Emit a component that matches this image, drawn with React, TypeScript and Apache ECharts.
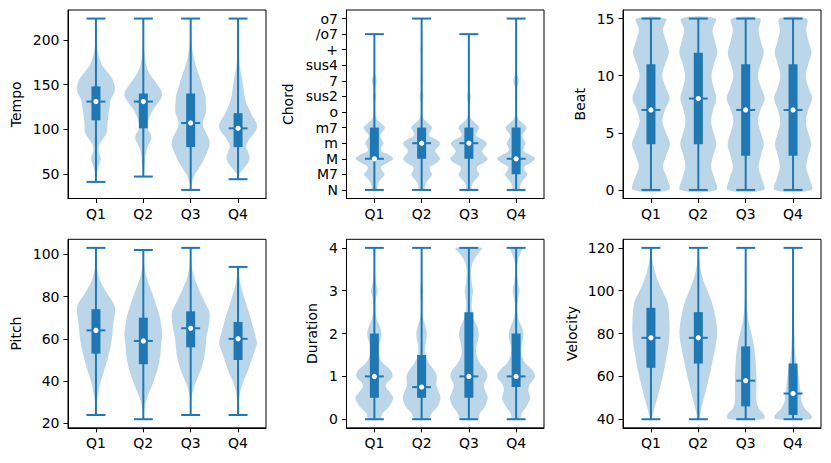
import React, { useEffect, useRef } from 'react';
import * as echarts from 'echarts';

const quarters = ['Q1', 'Q2', 'Q3', 'Q4'];
const chordLabels = ['N', 'M7', 'M', 'm', 'm7', 'o', 'sus2', '7', 'sus4', '+', '/o7', 'o7'];

// stats per quarter: [min, q1, median, q3, max]
const tempoStats = [[41, 110, 131, 148, 224], [47, 101, 131, 140, 224], [32, 80, 107, 140, 224], [44, 80, 101, 118, 224]];
const chordStats = [[0, 2, 2, 4, 10], [0, 2, 3, 4, 11], [0, 2, 3, 4, 10], [0, 1, 2, 4, 11]];
const beatStats = [[0, 4, 7, 11, 15], [0, 4, 8, 12, 15], [0, 3, 7, 11, 15], [0, 3, 7, 11, 15]];
const pitchStats = [[24, 53, 64, 74, 103], [22, 48, 59, 70, 102], [24, 56, 65, 73, 103], [24, 50, 60, 68, 94]];
const durationStats = [[0, 0.5, 1, 2, 4], [0, 0.5, 0.75, 1.5, 4], [0, 0.5, 1, 2.5, 4], [0, 0.75, 1, 2, 4]];
const velocityStats = [[40, 64, 78, 92, 120], [40, 66, 78, 90, 120], [40, 46, 58, 74, 120], [40, 42, 52, 66, 120]];

// violin outlines per quarter: [value, relative half width]
const tempoShapes = [
  [[41, 0.02], [50, 0.05], [58, 0.13], [65, 0.24], [70, 0.23], [76, 0.14], [82, 0.16], [90, 0.4], [97, 0.58], [105, 0.6], [115, 0.65], [125, 0.72], [133, 0.78], [140, 0.95], [145, 1.0], [152, 0.95], [158, 0.82], [164, 0.6], [170, 0.38], [176, 0.24], [185, 0.12], [195, 0.05], [210, 0.02], [224, 0.0]],
  [[47, 0.01], [55, 0.05], [62, 0.08], [70, 0.1], [78, 0.18], [84, 0.32], [89, 0.42], [94, 0.4], [99, 0.26], [104, 0.2], [110, 0.26], [116, 0.38], [122, 0.52], [128, 0.72], [134, 0.92], [138, 1.0], [143, 0.95], [148, 0.8], [154, 0.6], [160, 0.4], [166, 0.24], [172, 0.15], [180, 0.08], [190, 0.04], [205, 0.02], [224, 0.0]],
  [[32, 0.01], [40, 0.05], [46, 0.15], [52, 0.3], [58, 0.48], [64, 0.65], [70, 0.78], [76, 0.9], [82, 1.0], [88, 0.98], [94, 0.86], [100, 0.72], [106, 0.64], [112, 0.7], [118, 0.8], [124, 0.82], [130, 0.8], [136, 0.78], [142, 0.72], [148, 0.62], [154, 0.55], [160, 0.45], [166, 0.35], [172, 0.26], [178, 0.18], [185, 0.12], [195, 0.05], [210, 0.02], [224, 0.0]],
  [[44, 0.01], [50, 0.08], [55, 0.25], [60, 0.45], [65, 0.58], [70, 0.6], [75, 0.52], [80, 0.43], [85, 0.5], [90, 0.62], [95, 0.82], [100, 0.97], [104, 1.0], [108, 0.95], [114, 0.78], [120, 0.64], [126, 0.5], [132, 0.4], [140, 0.32], [148, 0.27], [155, 0.22], [162, 0.16], [170, 0.1], [180, 0.06], [195, 0.03], [210, 0.01], [224, 0.0]],
];
const chordShapes = [
  [[0, 0.14], [0.25, 0.15], [0.5, 0.22], [0.75, 0.38], [1, 0.55], [1.25, 0.4], [1.5, 0.36], [1.75, 0.7], [2, 1.0], [2.25, 0.78], [2.5, 0.36], [2.75, 0.38], [3, 0.48], [3.25, 0.38], [3.5, 0.3], [3.75, 0.45], [4, 0.56], [4.25, 0.38], [4.5, 0.15], [4.75, 0.06], [5, 0.04], [5.5, 0.04], [6, 0.08], [6.5, 0.04], [7, 0.13], [7.5, 0.03], [8, 0.02], [9, 0.01], [10, 0.0]],
  [[0, 0.15], [0.25, 0.17], [0.5, 0.25], [0.75, 0.42], [1, 0.55], [1.25, 0.45], [1.5, 0.46], [1.75, 0.8], [2, 0.98], [2.25, 0.85], [2.5, 0.72], [2.75, 0.86], [3, 0.98], [3.25, 0.75], [3.5, 0.4], [3.75, 0.45], [4, 0.55], [4.25, 0.38], [4.5, 0.15], [4.75, 0.06], [5, 0.04], [5.5, 0.04], [6, 0.1], [6.5, 0.04], [7, 0.05], [7.5, 0.03], [8, 0.03], [8.5, 0.03], [9, 0.06], [9.5, 0.02], [10, 0.03], [10.5, 0.01], [11, 0.0]],
  [[0, 0.13], [0.25, 0.15], [0.5, 0.24], [0.75, 0.42], [1, 0.55], [1.25, 0.44], [1.5, 0.45], [1.75, 0.8], [2, 1.0], [2.25, 0.82], [2.5, 0.7], [2.75, 0.84], [3, 0.95], [3.25, 0.72], [3.5, 0.38], [3.75, 0.45], [4, 0.55], [4.25, 0.38], [4.5, 0.15], [4.75, 0.06], [5, 0.04], [5.5, 0.04], [6, 0.1], [6.5, 0.04], [7, 0.06], [7.5, 0.02], [8, 0.02], [9, 0.01], [10, 0.0]],
  [[0, 0.18], [0.25, 0.2], [0.5, 0.3], [0.75, 0.46], [1, 0.6], [1.25, 0.46], [1.5, 0.45], [1.75, 0.78], [2, 1.0], [2.25, 0.76], [2.5, 0.4], [2.75, 0.42], [3, 0.5], [3.25, 0.4], [3.5, 0.32], [3.75, 0.45], [4, 0.55], [4.25, 0.38], [4.5, 0.15], [4.75, 0.06], [5, 0.03], [5.5, 0.03], [6, 0.06], [6.5, 0.04], [7, 0.15], [7.5, 0.03], [8, 0.02], [9, 0.02], [10, 0.01], [11, 0.0]],
];
const beatShapes = [
  [[0, 0.95], [1, 0.86], [2, 0.64], [3, 0.8], [4, 1.0], [5, 0.8], [6, 0.6], [7, 0.74], [8, 0.98], [9, 0.78], [10, 0.6], [11, 0.74], [12, 0.95], [13, 0.8], [14, 0.64], [15, 0.77]],
  [[0, 0.95], [1, 0.85], [2, 0.68], [3, 0.78], [4, 0.95], [5, 0.8], [6, 0.68], [7, 0.78], [8, 0.95], [9, 0.8], [10, 0.7], [11, 0.82], [12, 1.0], [13, 0.88], [14, 0.75], [15, 0.9]],
  [[0, 0.95], [1, 0.85], [2, 0.68], [3, 0.8], [4, 0.95], [5, 0.8], [6, 0.65], [7, 0.78], [8, 1.0], [9, 0.8], [10, 0.65], [11, 0.78], [12, 0.95], [13, 0.8], [14, 0.68], [15, 0.75]],
  [[0, 0.97], [1, 0.86], [2, 0.7], [3, 0.8], [4, 0.95], [5, 0.8], [6, 0.68], [7, 0.8], [8, 1.0], [9, 0.8], [10, 0.68], [11, 0.8], [12, 0.97], [13, 0.82], [14, 0.7], [15, 0.72]],
];
const pitchShapes = [
  [[24, 0.0], [28, 0.02], [32, 0.08], [36, 0.16], [40, 0.26], [44, 0.4], [48, 0.54], [52, 0.66], [56, 0.76], [60, 0.84], [64, 0.88], [68, 0.93], [72, 1.0], [75, 1.0], [78, 0.85], [81, 0.62], [84, 0.42], [87, 0.25], [90, 0.13], [94, 0.05], [98, 0.02], [103, 0.0]],
  [[22, 0.0], [26, 0.04], [30, 0.12], [34, 0.28], [38, 0.46], [42, 0.62], [46, 0.76], [50, 0.86], [54, 0.92], [58, 0.95], [62, 1.0], [66, 0.95], [70, 0.88], [74, 0.75], [78, 0.6], [82, 0.45], [86, 0.28], [90, 0.14], [94, 0.06], [98, 0.02], [102, 0.0]],
  [[24, 0.0], [30, 0.02], [34, 0.08], [38, 0.2], [42, 0.38], [46, 0.56], [50, 0.68], [54, 0.76], [58, 0.8], [62, 0.86], [66, 0.95], [70, 1.0], [73, 0.98], [76, 0.82], [80, 0.6], [84, 0.4], [88, 0.22], [92, 0.1], [96, 0.04], [100, 0.01], [103, 0.0]],
  [[24, 0.0], [28, 0.02], [32, 0.06], [36, 0.14], [40, 0.28], [44, 0.48], [48, 0.64], [52, 0.78], [56, 0.95], [58, 1.0], [62, 0.9], [66, 0.78], [70, 0.66], [74, 0.52], [78, 0.38], [82, 0.24], [86, 0.12], [90, 0.05], [94, 0.0]],
];
const durationShapes = [
  [[0, 0.28], [0.15, 0.45], [0.3, 0.78], [0.5, 1.0], [0.65, 0.78], [0.8, 0.6], [1.0, 0.96], [1.15, 0.85], [1.3, 0.48], [1.5, 0.22], [1.7, 0.2], [1.85, 0.32], [2.0, 0.38], [2.15, 0.3], [2.35, 0.12], [2.6, 0.05], [2.85, 0.1], [3.0, 0.18], [3.15, 0.1], [3.4, 0.03], [3.7, 0.02], [4, 0.05]],
  [[0, 0.35], [0.15, 0.55], [0.3, 0.85], [0.5, 1.0], [0.65, 0.9], [0.8, 0.78], [1.0, 0.8], [1.15, 0.65], [1.3, 0.4], [1.5, 0.2], [1.7, 0.18], [1.85, 0.25], [2.0, 0.28], [2.15, 0.22], [2.4, 0.06], [2.7, 0.03], [3.0, 0.08], [3.2, 0.04], [3.5, 0.02], [4, 0.02]],
  [[0, 0.45], [0.15, 0.6], [0.3, 0.85], [0.5, 1.0], [0.65, 0.88], [0.8, 0.8], [1.0, 0.98], [1.15, 0.88], [1.3, 0.6], [1.5, 0.4], [1.7, 0.4], [1.85, 0.48], [2.0, 0.52], [2.15, 0.45], [2.35, 0.25], [2.6, 0.15], [2.85, 0.18], [3.0, 0.22], [3.2, 0.15], [3.5, 0.12], [3.75, 0.3], [3.9, 0.55], [4.0, 0.7]],
  [[0, 0.18], [0.15, 0.3], [0.3, 0.55], [0.5, 0.75], [0.65, 0.65], [0.8, 0.7], [1.0, 1.0], [1.15, 0.85], [1.3, 0.5], [1.5, 0.28], [1.7, 0.28], [1.85, 0.35], [2.0, 0.38], [2.15, 0.3], [2.35, 0.12], [2.6, 0.06], [2.85, 0.12], [3.0, 0.18], [3.2, 0.1], [3.5, 0.04], [3.75, 0.12], [3.9, 0.25], [4.0, 0.32]],
];
const velocityShapes = [
  [[40, 0.03], [45, 0.18], [50, 0.34], [55, 0.48], [60, 0.62], [65, 0.74], [70, 0.84], [75, 0.93], [80, 0.98], [85, 0.98], [90, 0.95], [95, 0.86], [100, 0.6], [105, 0.35], [110, 0.18], [115, 0.06], [120, 0.0]],
  [[40, 0.03], [45, 0.16], [50, 0.3], [55, 0.44], [60, 0.58], [65, 0.7], [70, 0.82], [75, 0.93], [80, 1.0], [85, 0.95], [90, 0.85], [95, 0.7], [100, 0.48], [105, 0.26], [110, 0.12], [115, 0.04], [120, 0.0]],
  [[40, 0.92], [41, 1.0], [43, 0.9], [45, 0.68], [48, 0.58], [52, 0.56], [56, 0.57], [60, 0.57], [65, 0.54], [70, 0.5], [75, 0.42], [80, 0.3], [85, 0.17], [90, 0.09], [95, 0.05], [100, 0.04], [110, 0.02], [120, 0.0]],
  [[40, 0.9], [41, 1.0], [43, 0.85], [45, 0.62], [48, 0.46], [52, 0.4], [56, 0.35], [60, 0.3], [65, 0.2], [70, 0.12], [75, 0.08], [80, 0.06], [90, 0.04], [100, 0.02], [110, 0.01], [120, 0.0]],
];

const tempoTicks = [50, 100, 150, 200];
const chordTicks = [0, 1, 2, 3, 4, 5, 6, 7, 8, 9, 10, 11];
const beatTicks = [0, 5, 10, 15];
const pitchTicks = [20, 40, 60, 80, 100];
const durationTicks = [0, 1, 2, 3, 4];
const velocityTicks = [40, 60, 80, 100, 120];
const positions = [1, 2, 3, 4];

const BLUE = '#1f77b4';
const FONT = 'DejaVu Sans';
const FS = 14;

const panels = [
  { name: 'Tempo', stats: tempoStats, shapes: tempoShapes, ticks: tempoTicks, gap: 45, grid: { left: 68, top: 10, width: 198, height: 188.5 } },
  { name: 'Chord', stats: chordStats, shapes: chordShapes, ticks: chordTicks, labels: chordLabels, gap: 52, grid: { left: 346.5, top: 10, width: 197.5, height: 188.5 } },
  { name: 'Beat', stats: beatStats, shapes: beatShapes, ticks: beatTicks, gap: 36, grid: { left: 623, top: 10, width: 198, height: 188.5 } },
  { name: 'Pitch', stats: pitchStats, shapes: pitchShapes, ticks: pitchTicks, gap: 45, grid: { left: 68, top: 239.3, width: 198, height: 188.5 } },
  { name: 'Duration', stats: durationStats, shapes: durationShapes, ticks: durationTicks, gap: 28, grid: { left: 346.5, top: 239.3, width: 197.5, height: 188.5 } },
  { name: 'Velocity', stats: velocityStats, shapes: velocityShapes, ticks: velocityTicks, gap: 44, grid: { left: 623, top: 239.3, width: 198, height: 188.5 } },
];

function buildOption() {
  const grids: any[] = [];
  const xAxes: any[] = [];
  const yAxes: any[] = [];
  const series: any[] = [];
  panels.forEach((p, k) => {
    grids.push({ ...p.grid, show: true, borderColor: '#000', borderWidth: 1, backgroundColor: 'transparent' });
    const lo = Math.min(...p.stats.map((s) => s[0]));
    const hi = Math.max(...p.stats.map((s) => s[4]));
    const pad = (hi - lo) * 0.05;
    xAxes.push({
      gridIndex: k, type: 'value', min: 0.41, max: 4.59,
      axisLine: { show: true, onZero: false, lineStyle: { color: '#000', width: 1 } },
      axisTick: { show: true, inside: false, length: 4.5, lineStyle: { color: '#000', width: 1 }, customValues: positions },
      axisLabel: { customValues: positions, formatter: (v: number) => quarters[Math.round(v) - 1], fontSize: FS, color: '#000', fontFamily: FONT, margin: 8.5 },
      splitLine: { show: false },
    });
    yAxes.push({
      gridIndex: k, type: 'value', min: lo - pad, max: hi + pad,
      name: p.name, nameLocation: 'middle', nameGap: p.gap, nameRotate: 90,
      nameTextStyle: { fontSize: FS, color: '#000', fontFamily: FONT },
      axisLine: { show: true, onZero: false, lineStyle: { color: '#000', width: 1 } },
      axisTick: { show: true, inside: false, length: 4.5, lineStyle: { color: '#000', width: 1 }, customValues: p.ticks },
      axisLabel: {
        customValues: p.ticks,
        formatter: (v: number) => (p.labels ? p.labels[Math.round(v)] : String(v)),
        fontSize: FS, color: '#000', fontFamily: FONT, margin: 8.5,
      },
      splitLine: { show: false },
    });
    const shapes = p.shapes;
    series.push({
      type: 'custom',
      xAxisIndex: k,
      yAxisIndex: k,
      clip: false,
      encode: { x: 0, y: [1, 2, 3, 4, 5] },
      data: p.stats.map((s, i) => [positions[i], ...s]),
      renderItem: (params: any, api: any) => {
        const i = params.dataIndex;
        const pos = api.value(0);
        const mn = api.value(1), q1 = api.value(2), md = api.value(3), q3 = api.value(4), mx = api.value(5);
        const prof = shapes[i];
        const pts: number[][] = [];
        prof.forEach(([v, w]: number[]) => pts.push(api.coord([pos + w * 0.4, v])));
        for (let j = prof.length - 1; j >= 0; j--) {
          const [v, w] = prof[j];
          if (w === 0) continue;
          pts.push(api.coord([pos - w * 0.4, v]));
        }
        const clean = pts.filter((pt, j) => j === 0 || Math.abs(pt[0] - pts[j - 1][0]) > 0.01 || Math.abs(pt[1] - pts[j - 1][1]) > 0.01);
        const c = (x: number, y: number) => api.coord([x, y]);
        const hline = (y: number) => {
          const a = c(pos - 0.2, y), b = c(pos + 0.2, y);
          return { type: 'line', shape: { x1: a[0], y1: a[1], x2: b[0], y2: b[1] }, style: { stroke: BLUE, lineWidth: 2 } };
        };
        const top = c(pos, mx), bot = c(pos, mn);
        const b1 = c(pos, q3), b2 = c(pos, q1);
        const m = c(pos, md);
        return {
          type: 'group',
          children: [
            { type: 'polygon', shape: { points: clean, smooth: 0.35 }, style: { fill: 'rgba(31,119,180,0.3)' } },
            { type: 'line', shape: { x1: top[0], y1: top[1], x2: bot[0], y2: bot[1] }, style: { stroke: BLUE, lineWidth: 2 } },
            hline(mn),
            hline(mx),
            { type: 'rect', shape: { x: b1[0] - 4.5, y: b1[1], width: 9, height: b2[1] - b1[1] }, style: { fill: BLUE } },
            hline(md),
            { type: 'circle', shape: { cx: m[0], cy: m[1], r: 2.6 }, style: { fill: '#fff' } },
          ],
        };
      },
    });
  });
  return { animation: false, backgroundColor: '#fff', grid: grids, xAxis: xAxes, yAxis: yAxes, series };
}

export default function App() {
  const ref = useRef<HTMLDivElement>(null);
  useEffect(() => {
    if (!ref.current) return;
    const chart = echarts.init(ref.current, undefined, { renderer: 'svg' });
    chart.setOption(buildOption() as any);
    return () => chart.dispose();
  }, []);
  return <div ref={ref} style={{ position: 'absolute', left: 0, top: 0, width: 831, height: 463 }} />;
}
